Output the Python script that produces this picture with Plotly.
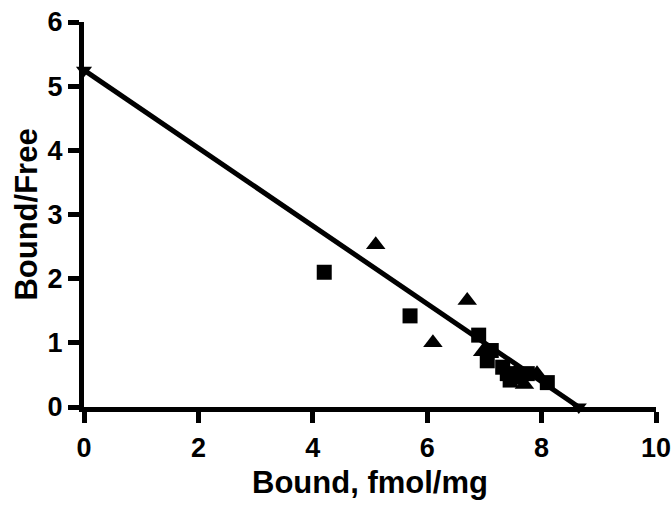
import plotly.graph_objects as go

squares_x = [4.2, 5.7, 6.9, 7.12, 7.05, 7.32, 7.45, 7.4, 7.75, 8.1]
squares_y = [2.1, 1.42, 1.12, 0.88, 0.72, 0.62, 0.42, 0.52, 0.52, 0.38]
triangles_x = [5.1, 6.1, 6.7, 6.97, 7.55, 7.6, 7.7, 7.92]
triangles_y = [2.53, 1.0, 1.66, 0.86, 0.55, 0.42, 0.35, 0.52]
fit_x = [0, 8.65]
fit_y = [5.25, 0]

x_ticks = [0, 2, 4, 6, 8, 10]
y_ticks = [0, 1, 2, 3, 4, 5, 6]

fig = go.Figure()
fig.add_trace(go.Scatter(x=fit_x, y=fit_y, mode="lines+markers",
                         line=dict(color="black", width=5),
                         marker=dict(symbol="triangle-down", size=14, color="black"),
                         cliponaxis=False, showlegend=False))
fig.add_trace(go.Scatter(x=squares_x, y=squares_y, mode="markers",
                         marker=dict(symbol="square", size=15, color="black"),
                         cliponaxis=False, showlegend=False))
fig.add_trace(go.Scatter(x=triangles_x, y=triangles_y, mode="markers",
                         marker=dict(symbol="triangle-up", size=17, color="black"),
                         cliponaxis=False, showlegend=False))

fam = "Liberation Sans, Arial, sans-serif"
tick_font = dict(family=fam, size=27, color="black")
fig.update_layout(
    width=672, height=509,
    margin=dict(l=84, r=16, t=22, b=102, autoexpand=False),
    plot_bgcolor="white", paper_bgcolor="white",
    font=dict(family=fam, size=26, color="black"),
)
fig.update_xaxes(range=[0, 10], tickvals=x_ticks, ticktext=[f"<b>{v}</b>" for v in x_ticks],
                 tickfont=tick_font, automargin=False,
                 showline=True, linecolor="black", linewidth=5,
                 ticks="outside", ticklen=11, tickwidth=5, tickcolor="black",
                 ticklabelstandoff=2,
                 showgrid=False, zeroline=False,
                 title=dict(text="<b>Bound, fmol/mg</b>", font=dict(size=31), standoff=10))
fig.update_yaxes(range=[0, 6], tickvals=y_ticks, ticktext=[f"<b>{v}</b>" for v in y_ticks],
                 tickfont=tick_font, automargin=False,
                 showline=True, linecolor="black", linewidth=5,
                 ticks="outside", ticklen=11, tickwidth=5, tickcolor="black",
                 ticklabelstandoff=0,
                 showgrid=False, zeroline=False,
                 title=dict(text="<b>Bound/Free</b>", font=dict(size=31), standoff=2))

fig.write_html("out.html")
